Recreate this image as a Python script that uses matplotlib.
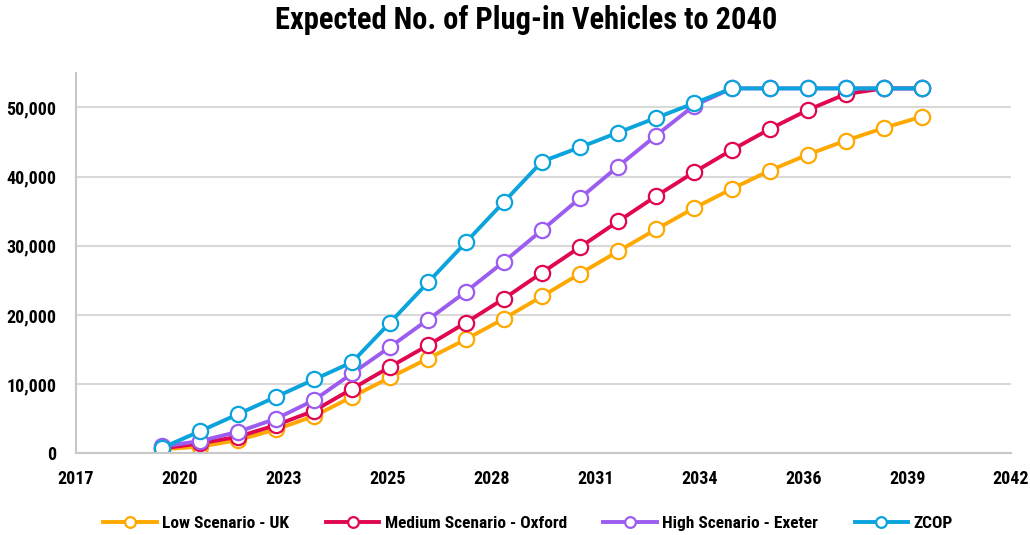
import numpy as np
import matplotlib
matplotlib.use("Agg")
import matplotlib.pyplot as plt
from matplotlib import font_manager

# data
years = list(range(2019, 2040))
low_uk = [600, 950, 1920, 3460, 5380, 8170, 10960, 13700, 16490, 19470, 22690,
          25970, 29180, 32360, 35430, 38230, 40870, 43180, 45200, 47030, 48660]
medium_oxford = [700, 1440, 2400, 4080, 6150, 9320, 12500, 15620, 18900, 22360, 26110,
                 29800, 33510, 37160, 40620, 43850, 46880, 49620, 51930, 52740, 52740]
high_exeter = [1000, 1770, 3120, 5000, 7690, 11540, 15380, 19330, 23370, 27700, 32260,
               36870, 41450, 45920, 50250, 52740, 52740, 52740, 52740, 52740, 52740]
zcop = [800, 3200, 5670, 8170, 10670, 13170, 18900, 24710, 30530, 36350, 42170,
        44230, 46350, 48470, 50580, 52740, 52740, 52740, 52740, 52740, 52740]

series = [
    ("Low Scenario - UK", low_uk, "#FFA800"),
    ("Medium Scenario - Oxford", medium_oxford, "#E0064F"),
    ("High Scenario - Exeter", high_exeter, "#9C5CF0"),
    ("ZCOP", zcop, "#0AA3DC"),
]
tick_labels = ["2017", "2020", "2023", "2025", "2028", "2031", "2034", "2036", "2039", "2042"]

# the original uses a heavy condensed face; take the narrowest one installed
installed = {f.name for f in font_manager.fontManager.ttflist}
family = "Liberation Serif"
for cand in ["Liberation Sans Narrow", "Roboto Condensed", "Open Sans Condensed",
             "Noto Sans Condensed", "DejaVu Sans Condensed"]:
    if cand in installed:
        family = cand
        break
font = {"family": family, "weight": "bold"}

fig = plt.figure(figsize=(10.3, 5.35), dpi=100)
ax = fig.add_axes([0.0738, 0.1527, 0.9078, 0.7113])

for name, vals, col in series:
    ax.plot(years, vals, color=col, lw=2.8, marker="o", ms=11,
            mfc="white", mec=col, mew=1.6, label=name)

x0, x1 = 2016.73, 2041.35
ax.set_xlim(x0, x1)
ax.set_xticks(np.linspace(x0, x1, len(tick_labels)))
ax.set_xticklabels(tick_labels, fontdict=font, fontsize=13)
ax.set_ylim(0, 55000)
ax.set_yticks(range(0, 50001, 10000))
ax.set_yticklabels([f"{v:,}" for v in range(0, 50001, 10000)], fontdict=font, fontsize=13)
ax.tick_params(axis="x", length=0, pad=12)
ax.tick_params(axis="y", length=0, pad=14)

ax.grid(axis="y", color="#d9d9d9", lw=1.5)
ax.set_axisbelow(True)
for s in ["top", "right"]:
    ax.spines[s].set_visible(False)
for s in ["left", "bottom"]:
    ax.spines[s].set_color("#c8c8c8")
    ax.spines[s].set_linewidth(1.5)

fig.suptitle("Expected No. of Plug-in Vehicles to 2040", x=0.511, y=0.99,
             fontsize=22, **font)

fig.legend(loc="center", bbox_to_anchor=(0.5126, 0.022), ncol=4, frameon=False,
           prop={"family": family, "weight": "bold", "size": 12.5},
           handlelength=3.1, handletextpad=0.3, columnspacing=2.1, markerscale=0.7)

fig.savefig("out.png", dpi=100)
